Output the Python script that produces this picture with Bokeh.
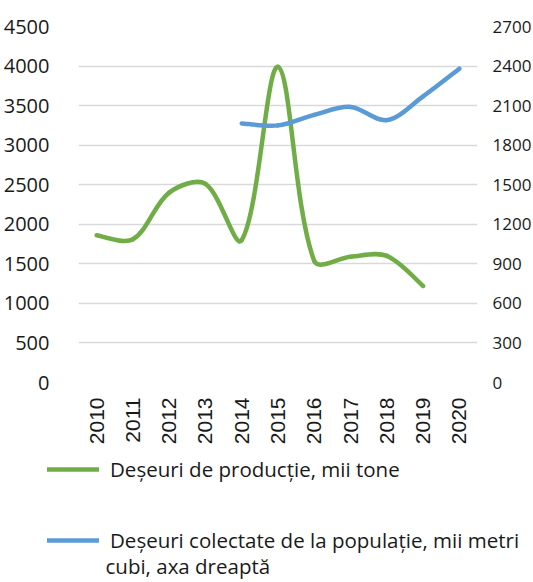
import math
import numpy as np
from bokeh.plotting import figure
from bokeh.layouts import column
from bokeh.models import Range1d, FixedTicker, Legend, LegendItem, ColumnDataSource, LinearAxis, Label
from bokeh.embed import file_html
from bokeh.resources import INLINE

# ---- data ----
years = [2010, 2011, 2012, 2013, 2014, 2015, 2016, 2017, 2018, 2019, 2020]
prod_years = [2010, 2011, 2012, 2013, 2014, 2015, 2016, 2017, 2018, 2019]
prod_values = [1860, 1810, 2400, 2510, 1800, 3990, 1535, 1590, 1600, 1220]
coll_years = [2014, 2015, 2016, 2017, 2018, 2019, 2020]
coll_values = [1965, 1950, 2030, 2090, 1990, 2170, 2380]
left_ticks = [0, 500, 1000, 1500, 2000, 2500, 3000, 3500, 4000, 4500]
right_ticks = [0, 300, 600, 900, 1200, 1500, 1800, 2100, 2400, 2700]
prod_label = "Deșeuri de producție, mii tone"
coll_label_1 = "Deșeuri colectate de la populație, mii metri"
coll_label_2 = "cubi, axa dreaptă"

GREEN = "#70ad47"
BLUE = "#5b9bd5"
TXT = "#1a1a1a"
FONT = "Open Sans"
FW, FH = 399, 356
XMIN, XMAX = 2009.5, 2020.5
LMAX, RMAX = 4500, 2700
LEG_W, LEG_H = 525, 134


def smooth_segments(xs, ys, sx, sy):
    """Excel-like smoothed line as cubic Bezier segments (control points derived from data)."""
    P = np.column_stack([np.asarray(xs, float) * sx, np.asarray(ys, float) * sy])
    n = len(P)
    fwd = np.zeros_like(P)
    back = np.zeros_like(P)
    for i in range(n):
        if i == 0:
            T = P[1] - P[0]
            fwd[i] = P[i] + T / 6
            back[i] = P[i]
        elif i == n - 1:
            T = P[i] - P[i - 1]
            back[i] = P[i] - T / 6
            fwd[i] = P[i]
        else:
            T = P[i + 1] - P[i - 1]
            dp = np.hypot(*(P[i] - P[i - 1]))
            dn = np.hypot(*(P[i + 1] - P[i]))
            fwd[i] = P[i] + T * (dn / (dp + dn)) / 3
            back[i] = P[i] - T * (dp / (dp + dn)) / 3
    d = dict(
        x0=P[:-1, 0] / sx, y0=P[:-1, 1] / sy,
        x1=P[1:, 0] / sx, y1=P[1:, 1] / sy,
        cx0=fwd[:-1, 0] / sx, cy0=fwd[:-1, 1] / sy,
        cx1=back[1:, 0] / sx, cy1=back[1:, 1] / sy,
    )
    return ColumnDataSource(d)


# ---------------- main chart ----------------
p = figure(
    frame_width=FW, frame_height=FH,
    x_range=Range1d(XMIN, XMAX), y_range=Range1d(0, LMAX),
    output_backend="svg", toolbar_location=None,
    min_border_left=72, min_border_right=5, min_border_top=26, min_border_bottom=66,
)
p.extra_y_ranges = {"right": Range1d(0, RMAX)}
p.outline_line_color = None
p.background_fill_color = "white"
p.border_fill_color = "white"

p.xgrid.visible = False
p.ygrid.ticker = FixedTicker(ticks=left_ticks)
p.ygrid.grid_line_color = "#d9d9d9"
p.ygrid.grid_line_width = 1.5

yax = p.yaxis[0]
yax.ticker = FixedTicker(ticks=left_ticks)
yax.major_label_standoff = 23
yax.major_label_text_font_size = "20px"

rax = LinearAxis(y_range_name="right", ticker=FixedTicker(ticks=right_ticks))
rax.major_label_standoff = 9
rax.major_label_text_font_size = "17px"
p.add_layout(rax, "right")

for ax in (yax, rax):
    ax.axis_line_color = None
    ax.major_tick_line_color = None
    ax.minor_tick_line_color = None
    ax.major_label_text_font = FONT
    ax.major_label_text_color = TXT

xax = p.xaxis[0]
xax.ticker = FixedTicker(ticks=years)
xax.axis_line_color = None
xax.major_tick_line_color = None
xax.minor_tick_line_color = None
xax.major_label_orientation = math.pi / 2
xax.major_label_standoff = 9
xax.major_label_text_font = "Liberation Sans"
xax.major_label_text_font_size = "21px"
xax.major_label_text_color = TXT

sx = FW / (XMAX - XMIN)
src_prod = smooth_segments(prod_years, prod_values, sx, FH / LMAX)
src_coll = smooth_segments(coll_years, coll_values, sx, FH / RMAX)

p.bezier(x0="x0", y0="y0", x1="x1", y1="y1", cx0="cx0", cy0="cy0", cx1="cx1", cy1="cy1",
         source=src_prod, line_color=GREEN, line_width=4.5, line_cap="round")
p.bezier(x0="x0", y0="y0", x1="x1", y1="y1", cx0="cx0", cy0="cy0", cx1="cx1", cy1="cy1",
         source=src_coll, line_color=BLUE, line_width=4.5, line_cap="round",
         y_range_name="right")

# ---------------- legend strip below ----------------
lg = figure(
    width=LEG_W, height=LEG_H, x_range=Range1d(0, LEG_W), y_range=Range1d(LEG_H, 0),
    x_axis_type=None, y_axis_type=None, output_backend="svg", toolbar_location=None,
    min_border=0,
)
lg.frame_align = False
lg.outline_line_color = None
lg.grid.visible = False
lg.background_fill_color = "white"
lg.border_fill_color = "white"

# legend keys (draw nothing themselves; they only lend their style to the legend)
key_prod = lg.line(x=np.array([np.nan]), y=np.array([np.nan]), line_color=GREEN, line_width=4.5, line_cap="round")
key_coll = lg.line(x=np.array([np.nan]), y=np.array([np.nan]), line_color=BLUE, line_width=4.5, line_cap="round")

common = dict(
    orientation="vertical",
    label_text_font=FONT, label_text_font_size="20.5px", label_text_color=TXT,
    glyph_width=52, glyph_height=28, label_height=28, label_standoff=11,
    padding=0, margin=0, border_line_color=None, background_fill_alpha=0,
)
leg1 = Legend(items=[LegendItem(label=prod_label, renderers=[key_prod])], location=(47, 99), **common)
leg2 = Legend(items=[LegendItem(label=coll_label_1, renderers=[key_coll])], location=(47, 28), **common)
lg.add_layout(leg1, "center")
lg.add_layout(leg2, "center")
lg.add_layout(Label(x=105, y=117, text=coll_label_2, text_font=FONT, text_font_size="20.5px",
                    text_color=TXT, text_baseline="middle", text_align="left"))

open("out.html", "w").write(file_html(column(p, lg, spacing=0), INLINE))
